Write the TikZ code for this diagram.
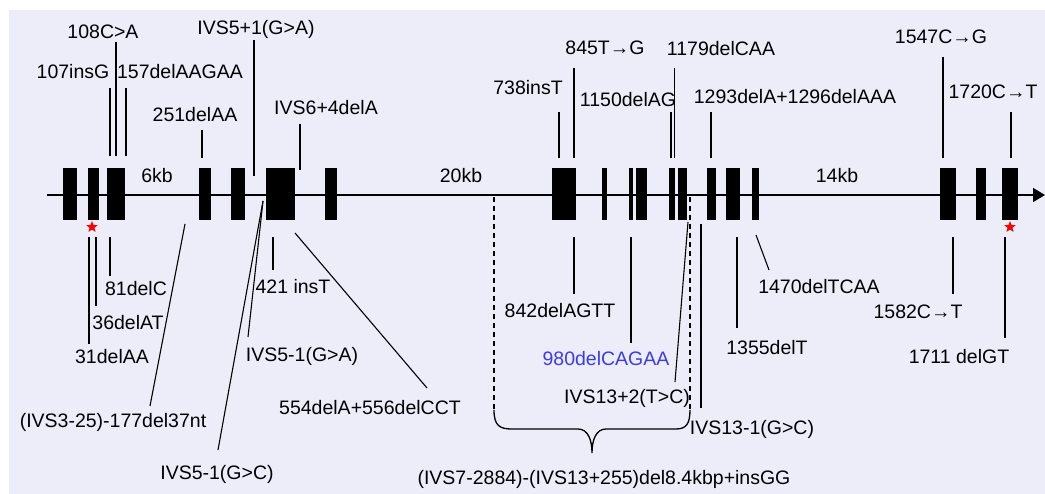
\documentclass[tikz,border=0pt]{standalone}
\usepackage{fontspec}
\setmainfont{Liberation Sans}
\usepackage{xcolor}
\usepackage{tikz}
\usetikzlibrary{shapes.geometric, arrows.meta, calc}
\definecolor{backlav}{HTML}{EDEDFA}
\definecolor{mutblue}{HTML}{3C3CE6}

\begin{document}
\begin{tikzpicture}[x=1pt, y=1pt,
    exon/.style={fill=black, inner sep=0pt, minimum height=52pt},
    lbl/.style={inner sep=0pt, text height=14pt, text depth=0pt,
                font=\fontsize{19.5}{20}\selectfont},
    tick/.style={line width=1.4pt},
    slant/.style={line width=1.1pt},
    redstar/.style={star, star points=5, star point ratio=2.3, fill=red,
                    inner sep=0pt, minimum size=12pt},
    brace/.style={line width=1.3pt}]
    % background and frame
    \fill[backlav] (9,-10) rectangle (1045,-494);
    \useasboundingbox (0,0) rectangle (1045,-494);

    % gene axis
    \coordinate (axL) at (47,-195);
    \coordinate (axR) at (1045,-195);
    \draw[line width=1.6pt, -{Triangle[length=12pt,width=14pt]}] (axL) -- (axR);

    % exons
    \node[exon, minimum width=14pt] (e1) at (70,-194) {};
    \node[exon, minimum width=11pt] (e2) at (93.5,-194) {};
    \node[exon, minimum width=18pt] (e3) at (116,-194) {};
    \node[exon, minimum width=12pt] (e4) at (205,-194) {};
    \node[exon, minimum width=14pt] (e5) at (238,-194) {};
    \node[exon, minimum width=29pt] (e6) at (280.5,-194) {};
    \node[exon, minimum width=12pt] (e7) at (331,-194) {};
    \node[exon, minimum width=24pt] (e8) at (564,-194) {};
    \node[exon, minimum width=5.5pt] (e9) at (604.5,-194) {};
    \node[exon, minimum width=4.5pt] (e10a) at (631,-194) {};
    \node[exon, minimum width=11pt] (e10b) at (641.5,-194) {};
    \node[exon, minimum width=6pt] (e11a) at (672,-194) {};
    \node[exon, minimum width=9pt] (e11b) at (682.5,-194) {};
    \node[exon, minimum width=9pt] (e12) at (711.5,-194) {};
    \node[exon, minimum width=14pt] (e13) at (733,-194) {};
    \node[exon, minimum width=7pt] (e14) at (755.5,-194) {};
    \node[exon, minimum width=16pt] (e15) at (948,-194) {};
    \node[exon, minimum width=10pt] (e16) at (981,-194) {};
    \node[exon, minimum width=16pt] (e17) at (1010,-194) {};

    \node[redstar] (s2) at (92,-227) {};
    \node[redstar] (s17) at (1010,-227) {};

    % intron sizes
    \node[lbl] (d6) at (157,-176) {6kb};
    \node[lbl] (d20) at (461,-176) {20kb};
    \node[lbl] (d14) at (837,-176) {14kb};

    % mutations above the gene
    \node[lbl] (m108) at (103,-32) {108C>A};
    \path (116,-42) coordinate (t108) (116,-156) coordinate (g108);
    \draw[tick] (t108) -- (g108);

    \node[lbl] (m107) at (73,-72) {107insG};
    \path (110,-88) coordinate (t107) (110,-156) coordinate (g107);
    \draw[tick] (t107) -- (g107);

    \node[lbl] (m157) at (180,-72) {157delAAGAA};
    \path (126,-88) coordinate (t157) (126,-156) coordinate (g157);
    \draw[tick] (t157) -- (g157);

    \node[lbl] (m251) at (195,-115) {251delAA};
    \path (202,-130) coordinate (t251) (202,-158) coordinate (g251);
    \draw[tick] (t251) -- (g251);

    \node[lbl] (mivs5a) at (256,-28) {IVS5+1(G>A)};
    \path (254,-40) coordinate (tivs5a) (254,-176) coordinate (givs5a);
    \draw[tick] (tivs5a) -- (givs5a);

    \node[lbl] (mivs6) at (326,-108) {IVS6+4delA};
    \path (300,-124) coordinate (tivs6) (300,-170) coordinate (givs6);
    \draw[tick] (tivs6) -- (givs6);

    \node[lbl] (m738) at (528,-88) {738insT};
    \path (559,-112) coordinate (t738) (559,-158) coordinate (g738);
    \draw[tick] (t738) -- (g738);

    \node[lbl] (m845) at (605,-48) {845T→G};
    \path (574,-68) coordinate (t845) (574,-158) coordinate (g845);
    \draw[tick] (t845) -- (g845);

    \node[lbl] (m1150) at (628,-100) {1150delAG};
    \path (671,-112) coordinate (t1150) (671,-158) coordinate (g1150);
    \draw[tick] (t1150) -- (g1150);

    \node[lbl] (m1179) at (721,-49) {1179delCAA};
    \path (674.5,-68) coordinate (t1179) (674.5,-158) coordinate (g1179);
    \draw[tick] (t1179) -- (g1179);

    \node[lbl] (m1293) at (795,-97) {1293delA+1296delAAA};
    \path (711,-112) coordinate (t1293) (711,-158) coordinate (g1293);
    \draw[tick] (t1293) -- (g1293);

    \node[lbl] (m1547) at (941,-37) {1547C→G};
    \path (943,-57) coordinate (t1547) (943,-158) coordinate (g1547);
    \draw[tick] (t1547) -- (g1547);

    \node[lbl] (m1720) at (993,-92) {1720C→T};
    \path (1011,-112) coordinate (t1720) (1011,-158) coordinate (g1720);
    \draw[tick] (t1720) -- (g1720);

    % mutations below the gene
    \node[lbl] (m81) at (136,-289) {81delC};
    \path (110,-237) coordinate (g81) (110,-276) coordinate (t81);
    \draw[tick] (g81) -- (t81);

    \node[lbl] (m36) at (128,-323) {36delAT};
    \path (96,-237) coordinate (g36) (96,-306) coordinate (t36);
    \draw[tick] (g36) -- (t36);

    \node[lbl] (m31) at (112,-357) {31delAA};
    \path (89,-237) coordinate (g31) (89,-344) coordinate (t31);
    \draw[tick] (g31) -- (t31);

    \node[lbl] (mivs3) at (113,-421) {(IVS3-25)-177del37nt};
    \path (185,-224) coordinate (givs3) (150,-406) coordinate (tivs3);
    \draw[slant] (givs3) -- (tivs3);

    \node[lbl] (mivs5c) at (217,-472) {IVS5-1(G>C)};
    \path (263,-201) coordinate (givs5) (218,-450) coordinate (tivs5c);
    \draw[slant] (givs5) -- (tivs5c);

    \node[lbl] (mivs5g) at (302,-355) {IVS5-1(G>A)};
    \path (248,-337) coordinate (tivs5g);
    \draw[slant] (givs5) -- (tivs5g);

    \node[lbl] (m421) at (293,-287) {421 insT};
    \path (273,-237) coordinate (g421) (273,-270) coordinate (t421);
    \draw[tick] (g421) -- (t421);

    \node[lbl] (m554) at (370,-407) {554delA+556delCCT};
    \path (295,-233) coordinate (g554) (427,-388) coordinate (t554);
    \draw[slant] (g554) -- (t554);

    \node[lbl] (m842) at (560,-311) {842delAGTT};
    \path (574,-237) coordinate (g842) (574,-294) coordinate (t842);
    \draw[tick] (g842) -- (t842);

    \node[lbl, text=mutblue] (m980) at (606,-359) {980delCAGAA};
    \path (631,-237) coordinate (g980) (631,-343) coordinate (t980);
    \draw[tick] (g980) -- (t980);

    \node[lbl] (mivs13a) at (627,-396) {IVS13+2(T>C)};
    \path (688,-222) coordinate (givs13a) (675,-382) coordinate (tivs13a);
    \draw[slant] (givs13a) -- (tivs13a);

    \node[lbl] (mivs13b) at (752,-428) {IVS13-1(G>C)};
    \path (701,-224) coordinate (givs13b) (701,-408) coordinate (tivs13b);
    \draw[tick] (givs13b) -- (tivs13b);

    \node[lbl] (m1355) at (767,-348) {1355delT};
    \path (737,-237) coordinate (g1355) (737,-328) coordinate (t1355);
    \draw[tick] (g1355) -- (t1355);

    \node[lbl] (m1470) at (819,-287) {1470delTCAA};
    \path (756,-235) coordinate (g1470) (769,-270) coordinate (t1470);
    \draw[slant] (g1470) -- (t1470);

    \node[lbl] (m1582) at (918,-312) {1582C→T};
    \path (953,-237) coordinate (g1582) (953,-294) coordinate (t1582);
    \draw[tick] (g1582) -- (t1582);

    \node[lbl] (m1711) at (959,-357) {1711 delGT};
    \path (1005,-237) coordinate (g1711) (1005,-338) coordinate (t1711);
    \draw[tick] (g1711) -- (t1711);

    % large deletion
    \path (494,-197) coordinate (bl) (690,-197) coordinate (br)
          (494,-410) coordinate (bl2) (690,-410) coordinate (br2)
          (592,-453) coordinate (btip);
    \draw[brace, dash pattern=on 5pt off 4pt] (bl) -- (bl2);
    \draw[brace, dash pattern=on 5pt off 4pt] (br) -- (br2);
    \draw[brace] (bl2) .. controls (494,-426) and (500,-429) .. (512,-429)
        -- (578,-429) .. controls (588,-429) and (592,-440) .. (btip)
        .. controls (592,-440) and (596,-429) .. (606,-429)
        -- (676,-429) .. controls (686,-429) and (690,-424) .. (br2);
    \node[lbl] (mdel) at (604,-477) {(IVS7-2884)-(IVS13+255)del8.4kbp+insGG};
\end{tikzpicture}
\end{document}
